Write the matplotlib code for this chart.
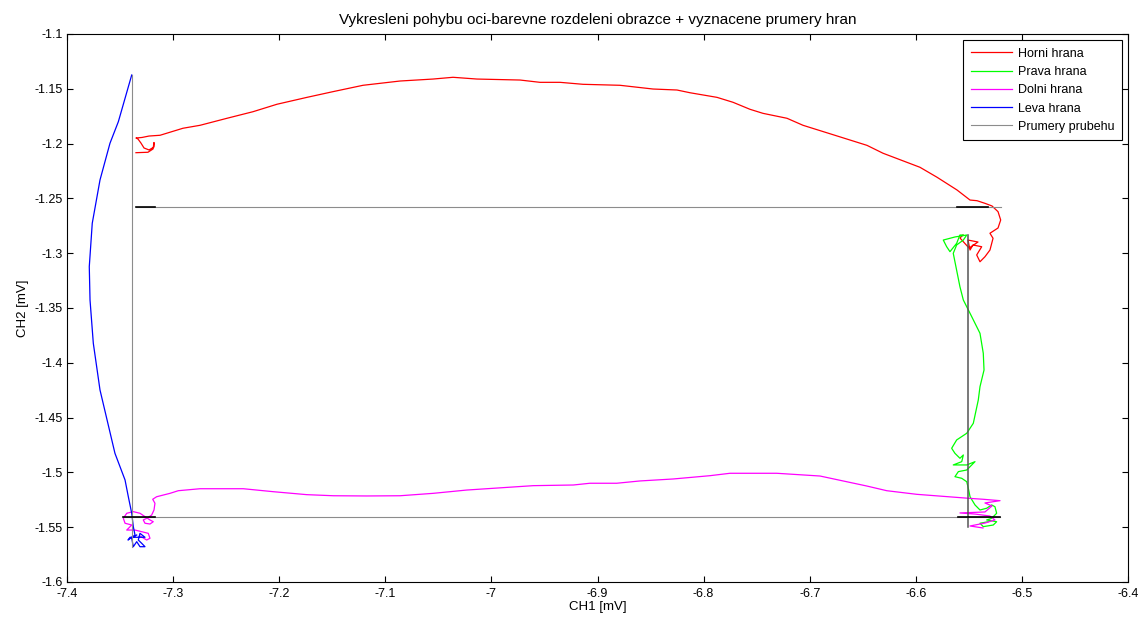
import matplotlib
matplotlib.use('Agg')
import matplotlib.pyplot as plt
import numpy as np

plt.rcParams['font.family'] = ['Liberation Sans', 'DejaVu Sans']
plt.rcParams['xtick.direction'] = 'in'
plt.rcParams['ytick.direction'] = 'in'

# horni hrana (top edge)
horni_x = [-7.335, -7.3237, -7.3189, -7.318, -7.318, -7.3227, -7.3274, -7.3303, -7.3331, -7.335,
           -7.3293, -7.3227, -7.3123, -7.2907, -7.2746, -7.2492, -7.2247, -7.2021, -7.1738, -7.1493,
           -7.121, -7.0861, -7.055, -7.0362, -7.0136, -6.973, -6.9542, -6.9353, -6.9137, -6.8788,
           -6.8477, -6.8251, -6.8128, -6.7874, -6.7723, -6.7563, -6.744, -6.7214, -6.7063, -6.6809,
           -6.646, -6.6309, -6.5961, -6.58, -6.5612, -6.5489, -6.5423, -6.5348, -6.5282, -6.5225,
           -6.52, -6.5225, -6.5301, -6.5272, -6.5301, -6.5348, -6.5395, -6.5426, -6.5379, -6.5461,
           -6.5489, -6.5508, -6.5414, -6.5498, -6.5584, -6.5555]
horni_y = [-1.2083, -1.2079, -1.2049, -1.199, -1.2031, -1.2058, -1.204, -1.1995, -1.1958, -1.1949,
           -1.1944, -1.1931, -1.1924, -1.186, -1.1833, -1.1769, -1.1709, -1.1641, -1.1578, -1.1526,
           -1.1468, -1.1429, -1.1411, -1.1395, -1.1411, -1.142, -1.1441, -1.1441, -1.1459, -1.1468,
           -1.1502, -1.1511, -1.1536, -1.1578, -1.1623, -1.1687, -1.1724, -1.1769, -1.1833, -1.191,
           -1.2016, -1.2088, -1.2216, -1.2307, -1.2423, -1.2515, -1.2521, -1.2545, -1.2569, -1.2621,
           -1.2697, -1.277, -1.2818, -1.2864, -1.2971, -1.3032, -1.3078, -1.3016, -1.2941, -1.2925,
           -1.2971, -1.288, -1.2898, -1.2953, -1.2861, -1.2834]

# prava hrana (right edge)
prava_x = [-6.5555, -6.5584, -6.5615, -6.5678, -6.5709, -6.5741, -6.5631, -6.552, -6.5552, -6.5615,
           -6.5647, -6.5584, -6.5552, -6.5473, -6.5395, -6.5364, -6.5357, -6.5395, -6.5411, -6.5458,
           -6.552, -6.5615, -6.5662, -6.5631, -6.5584, -6.5552, -6.5567, -6.5647, -6.552, -6.5442,
           -6.552, -6.5599, -6.5631, -6.5567, -6.552, -6.5505, -6.5489, -6.5442, -6.5395, -6.5332,
           -6.5285, -6.5254, -6.5238, -6.5285, -6.5332, -6.5238, -6.527, -6.5364, -6.5395, -6.5317]
prava_y = [-1.2834, -1.2834, -1.291, -1.2986, -1.2941, -1.288, -1.2852, -1.2834, -1.288, -1.2925,
           -1.3001, -1.3306, -1.3427, -1.3579, -1.3731, -1.3913, -1.4066, -1.4218, -1.4339, -1.4552,
           -1.4643, -1.4704, -1.478, -1.4826, -1.4871, -1.4841, -1.4902, -1.4932, -1.4932, -1.4902,
           -1.4978, -1.4993, -1.5039, -1.5054, -1.5085, -1.5145, -1.5222, -1.5297, -1.5343, -1.5327,
           -1.5297, -1.5313, -1.5373, -1.5419, -1.5434, -1.545, -1.548, -1.5495, -1.5464, -1.545]

# dolni hrana (bottom edge)
dolni_x = [-6.5367, -6.5489, -6.5348, -6.5254, -6.5301, -6.5442, -6.5584, -6.5348, -6.5282, -6.5348,
           -6.5206, -6.5367, -6.5505, -6.5991, -6.6274, -6.6463, -6.6903, -6.7311, -6.7751, -6.794,
           -6.8286, -6.8599, -6.8819, -6.9071, -6.9228, -6.9605, -7.0233, -7.0548, -7.0861, -7.1175,
           -7.149, -7.1741, -7.2056, -7.2338, -7.2746, -7.2951, -7.3029, -7.3155, -7.3192, -7.3171,
           -7.318, -7.3202, -7.3249, -7.3281, -7.3265, -7.3218, -7.3187, -7.3218, -7.3312, -7.3375,
           -7.3437, -7.3469, -7.3453, -7.339, -7.3437, -7.3359, -7.3296, -7.3234, -7.3218, -7.3249,
           -7.3312]
dolni_y = [-1.5507, -1.5489, -1.5462, -1.5434, -1.5398, -1.538, -1.537, -1.5361, -1.5306, -1.5279,
           -1.5258, -1.5245, -1.5236, -1.52, -1.5167, -1.5124, -1.5033, -1.5008, -1.5008, -1.503,
           -1.506, -1.5078, -1.5099, -1.5099, -1.5115, -1.5121, -1.5161, -1.5191, -1.5213, -1.5215,
           -1.5213, -1.5203, -1.5176, -1.5149, -1.5149, -1.5167, -1.5191, -1.5222, -1.5245, -1.5282,
           -1.5343, -1.5389, -1.5419, -1.5434, -1.5464, -1.5471, -1.545, -1.5434, -1.5373, -1.5358,
           -1.5373, -1.5419, -1.5464, -1.548, -1.5526, -1.5526, -1.5541, -1.5556, -1.5601, -1.5617,
           -1.558]

# leva hrana (left edge)
leva_x = [-7.3343, -7.339, -7.3375, -7.3343, -7.3312, -7.3265, -7.3296, -7.3328, -7.3312, -7.3265,
          -7.3406, -7.3425, -7.3359, -7.3375, -7.339, -7.3422, -7.3453, -7.3548, -7.3689, -7.3752,
          -7.3783, -7.379, -7.3762, -7.3689, -7.3595, -7.3516, -7.339]
leva_y = [-1.5571, -1.5601, -1.5678, -1.5632, -1.5678, -1.5678, -1.5647, -1.5617, -1.5556, -1.5592,
          -1.5592, -1.5617, -1.5571, -1.5495, -1.5373, -1.5222, -1.5069, -1.4826, -1.4248, -1.3822,
          -1.3427, -1.3123, -1.2727, -1.2332, -1.1997, -1.18, -1.1374]

# prumery hran (edge averages)
prumer_horni = -1.2578
prumer_prava = -6.5508
prumer_dolni = -1.5407
prumer_leva = -7.3387

# short dark parts of the average lines
cerne_horni = [(-7.335, -7.317), (-6.5612, -6.532)]
cerne_dolni = [(-7.3469, -7.317), (-6.5602, -6.5206)]

fig = plt.figure(figsize=(11.4, 6.22), dpi=100)
ax = fig.add_axes([67 / 1140, 1 - 582 / 622, 1061 / 1140, 548 / 622])

lw = 0.9
ax.plot(horni_x, horni_y, color='#ff0000', lw=lw, label='Horni hrana')
ax.plot(prava_x, prava_y, color='#00ff00', lw=lw, label='Prava hrana')
ax.plot(dolni_x, dolni_y, color='#ff00ff', lw=lw, label='Dolni hrana')
ax.plot(leva_x, leva_y, color='#0000ff', lw=lw, label='Leva hrana')

sedy = '#8c8c8c'
ax.plot([min(horni_x), max(horni_x)], [prumer_horni, prumer_horni], color=sedy, lw=0.8,
        label='Prumery prubehu')
ax.plot([prumer_prava, prumer_prava], [min(prava_y), max(prava_y)], color='#555555', lw=1.1)
ax.plot([min(dolni_x), max(dolni_x)], [prumer_dolni, prumer_dolni], color=sedy, lw=0.8)
ax.plot([prumer_leva, prumer_leva], [min(leva_y), max(leva_y)], color=sedy, lw=0.8)
for a, b in cerne_horni:
    ax.plot([a, b], [prumer_horni, prumer_horni], color='k', lw=1.2)
for a, b in cerne_dolni:
    ax.plot([a, b], [prumer_dolni, prumer_dolni], color='k', lw=1.2)

ax.set_xlim(-7.4, -6.4)
ax.set_ylim(-1.6, -1.1)
ax.set_xticks(np.round(np.arange(-7.4, -6.35, 0.1), 2))
ax.set_yticks(np.round(np.arange(-1.6, -1.09, 0.05), 2))
ax.xaxis.set_major_formatter(plt.FormatStrFormatter('%g'))
ax.yaxis.set_major_formatter(plt.FormatStrFormatter('%g'))
ax.tick_params(top=True, right=True, length=4, width=0.8, labelsize=9, pad=4)
ax.tick_params(axis='y', pad=3)
for s in ax.spines.values():
    s.set_linewidth(0.8)

ax.set_title('Vykresleni pohybu oci-barevne rozdeleni obrazce + vyznacene prumery hran',
             fontsize=11, pad=7)
ax.set_xlabel('CH1 [mV]', fontsize=9.5, labelpad=1)
ax.set_ylabel('CH2 [mV]', fontsize=9.5, labelpad=4)

leg = ax.legend(loc='upper right', fontsize=9, fancybox=False, framealpha=1, edgecolor='k',
                handlelength=3.3, handletextpad=0.45, borderaxespad=0.5, labelspacing=0.5,
                borderpad=0.6)
leg.get_frame().set_linewidth(0.8)

fig.savefig('out.png', dpi=100)
